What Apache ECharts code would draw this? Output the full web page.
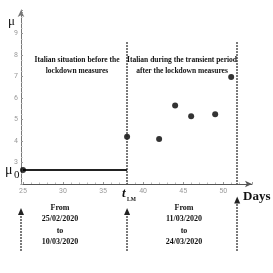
<!DOCTYPE html>
<html><head><meta charset="utf-8">
<script src="https://cdn.jsdelivr.net/npm/echarts@6/dist/echarts.min.js"></script>
<style>html,body{margin:0;padding:0;background:#fff}#c{width:273px;height:273px}</style>
</head><body><div id="c"></div>
<script>
// ---- data ----
const days = [25, 38, 42, 44, 46, 49, 51];
const muValues = [2.65, 4.2, 4.1, 5.65, 5.15, 5.25, 6.98];
const mu0 = 2.65;
const mu0Days = [25, 38];
const tLM = 38;
const tEnd = 51.75;
const dividerTop = 8.6;
const xTickLabels = [25, 30, 35, 40, 45, 50];
const yTickLabels = [3, 4, 5, 6, 7, 8, 9];
const xMin = 24.75, xMax = 53.6, yMin = 2, yMax = 10.1;
// lower annotation arrows: [day, arrow tip (fraction below axis), end]
const arrowDays = [xMin, tLM, tEnd];
const arrowTips = [0.31, 0.31, 0.18];

const serif = '"Liberation Serif", "DejaVu Serif", serif';
const chart = echarts.init(document.getElementById('c'), null, {renderer: 'canvas'});

const scatterData = days.map((d, i) => [d, muValues[i]]);
const lineData = mu0Days.map(d => [d, mu0]);

chart.setOption({
  animation: false,
  grid: [
    {left: 21, right: 21, top: 10, bottom: 89},
    {left: 21, right: 21, top: 184, bottom: 0}
  ],
  xAxis: [{
    gridIndex: 0, type: 'value', min: xMin, max: xMax, splitNumber: 5,
    axisLine: {show: true, onZero: false, lineStyle: {color: '#555', width: 1},
      symbol: ['none', 'arrow'], symbolSize: [5, 7]},
    axisTick: {show: true, inside: true, length: 2, lineStyle: {color: '#999'}},
    minorTick: {show: true, splitNumber: 5, length: 1.5, lineStyle: {color: '#bbb'}},
    splitLine: {show: false},
    axisLabel: {fontSize: 7, color: '#999', margin: 4, fontFamily: 'Roboto',
      formatter: v => xTickLabels.includes(v) ? String(v) : ''}
  }, {
    gridIndex: 1, type: 'value', min: xMin, max: xMax, show: false
  }],
  yAxis: [{
    gridIndex: 0, type: 'value', min: yMin, max: yMax, interval: 1,
    axisLine: {show: true, onZero: false, lineStyle: {color: '#777', width: 1},
      symbol: ['none', 'arrow'], symbolSize: [5, 7]},
    axisTick: {show: true, inside: true, length: 2, lineStyle: {color: '#999'}},
    minorTick: {show: true, splitNumber: 4, length: 1.5, lineStyle: {color: '#bbb'}},
    splitLine: {show: false},
    axisLabel: {fontSize: 7, color: '#999', margin: 3, fontFamily: 'Roboto',
      formatter: v => yTickLabels.includes(v) ? String(v) : ''}
  }, {
    gridIndex: 1, type: 'value', min: 0, max: 1, inverse: true, show: false
  }],
  series: [{
    type: 'line', xAxisIndex: 0, yAxisIndex: 0, data: lineData,
    symbol: 'none', lineStyle: {color: '#222', width: 2}, z: 2
  }, {
    type: 'scatter', xAxisIndex: 0, yAxisIndex: 0, data: scatterData,
    symbolSize: 6, itemStyle: {color: '#000'}, z: 3,
    markLine: {
      silent: true, symbol: ['none', 'none'],
      lineStyle: {color: '#222', type: [1.5, 1.5], width: 1.6},
      label: {show: false},
      data: [tLM, tEnd].map(d => [{coord: [d, dividerTop]}, {coord: [d, yMin]}])
    }
  }, {
    type: 'line', xAxisIndex: 1, yAxisIndex: 1, data: [],
    markLine: {
      silent: true, symbol: ['none', 'triangle'], symbolSize: [6, 7],
      lineStyle: {color: '#222', type: [1.5, 1.5], width: 1.6},
      itemStyle: {color: '#111'},
      label: {show: false},
      data: arrowDays.map((d, i) => [{coord: [d, 0.75]}, {coord: [d, arrowTips[i]]}])
    }
  }],
  graphic: [
    {type: 'text', x: 77, y: 55, style: {text: 'Italian situation before the\nlockdown measures',
      font: 'bold 7.5px ' + serif, fill: '#111', align: 'center', lineHeight: 11}},
    {type: 'text', x: 182, y: 55, style: {text: 'Italian during the transient period\nafter the lockdown measures',
      font: 'bold 7.5px ' + serif, fill: '#111', align: 'center', lineHeight: 11}},
    {type: 'text', x: 60, y: 202, style: {text: 'From\n25/02/2020\nto\n10/03/2020',
      font: 'bold 8px ' + serif, fill: '#111', align: 'center', lineHeight: 11.4}},
    {type: 'text', x: 184, y: 202, style: {text: 'From\n11/03/2020\nto\n24/03/2020',
      font: 'bold 8px ' + serif, fill: '#111', align: 'center', lineHeight: 11.4}},
    {type: 'text', x: 243, y: 190, style: {text: 'Days', font: 'bold 13px ' + serif, fill: '#111'}},
    {type: 'text', x: 8, y: 15, style: {text: 'μ', font: '13px ' + serif, fill: '#111'}},
    {type: 'text', x: 5, y: 163, style: {text: 'μ', font: '14px ' + serif, fill: '#111'}},
    {type: 'text', x: 14, y: 170, style: {text: '0', font: '11px ' + serif, fill: '#111'}},
    {type: 'text', x: 122, y: 187, style: {text: 't', font: 'italic bold 13px ' + serif, fill: '#111'}},
    {type: 'text', x: 127, y: 197, style: {text: 'LM', font: 'bold 5.5px ' + serif, fill: '#111'}}
  ]
});
</script></body></html>
